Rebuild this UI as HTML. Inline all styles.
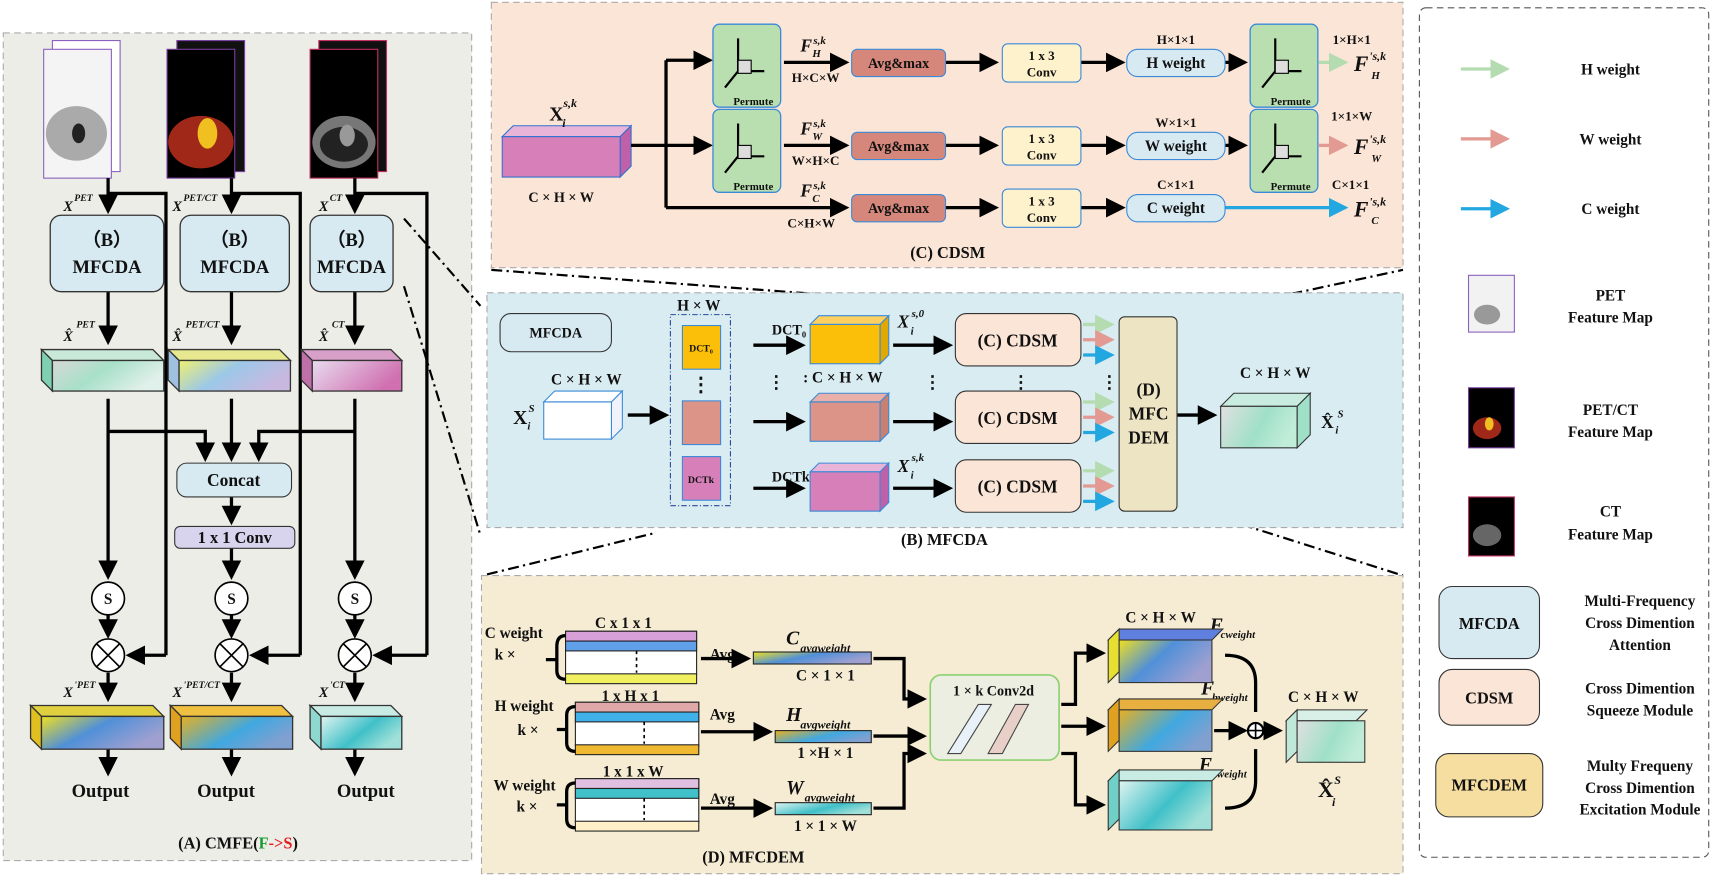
<!DOCTYPE html>
<html><head><meta charset="utf-8"><style>html,body{margin:0;padding:0;background:#fff}svg{display:block}text{font-family:"Liberation Serif",serif;font-weight:bold;fill:#111}</style></head><body>
<svg width="1712" height="876" viewBox="0 0 1568 802" xmlns="http://www.w3.org/2000/svg">
<defs>
<marker id="ar" markerWidth="6" markerHeight="6" refX="5" refY="3" orient="auto" markerUnits="strokeWidth"><path d="M0,0 L6,3 L0,6 z" fill="#000"/></marker>
<marker id="arG" markerWidth="6" markerHeight="6" refX="5" refY="3" orient="auto"><path d="M0,0 L6,3 L0,6 z" fill="#b4dcb0"/></marker>
<marker id="arR" markerWidth="6" markerHeight="6" refX="5" refY="3" orient="auto"><path d="M0,0 L6,3 L0,6 z" fill="#e29a92"/></marker>
<marker id="arB" markerWidth="6" markerHeight="6" refX="5" refY="3" orient="auto"><path d="M0,0 L6,3 L0,6 z" fill="#22a7e0"/></marker>
<linearGradient id="gPet" x1="0" y1="0" x2="1" y2="0.4"><stop offset="0" stop-color="#d8d8d8"/><stop offset=".5" stop-color="#a8e0c8"/><stop offset="1" stop-color="#e0f0ea"/></linearGradient>
<linearGradient id="gPc" x1="0" y1="0" x2="1" y2="0.4"><stop offset="0" stop-color="#f0f070"/><stop offset=".5" stop-color="#9cc8e8"/><stop offset="1" stop-color="#c8b8e0"/></linearGradient>
<linearGradient id="gCt" x1="0" y1="0" x2="1" y2="0.4"><stop offset="0" stop-color="#e8dcef"/><stop offset="1" stop-color="#d070b0"/></linearGradient>
<linearGradient id="gOut1" x1="0" y1="0" x2="1" y2="0.5"><stop offset="0" stop-color="#f0e020"/><stop offset=".5" stop-color="#5090d8"/><stop offset="1" stop-color="#a0a0d0"/></linearGradient>
<linearGradient id="gOut2" x1="0" y1="0" x2="1" y2="0.5"><stop offset="0" stop-color="#e8b020"/><stop offset=".6" stop-color="#40a8e0"/><stop offset="1" stop-color="#80a0d0"/></linearGradient>
<linearGradient id="gTeal" x1="0" y1="0" x2="1" y2="0.5"><stop offset="0" stop-color="#e0f4f0"/><stop offset=".6" stop-color="#40c0c8"/><stop offset="1" stop-color="#a0e0d8"/></linearGradient>
<linearGradient id="gOutS" x1="0" y1="0" x2="1" y2="0.3"><stop offset="0" stop-color="#e0e0e0"/><stop offset=".6" stop-color="#a0e0c8"/><stop offset="1" stop-color="#c0ecd8"/></linearGradient>
</defs>

<!-- Panel A -->
<rect x="3" y="30" width="429" height="758" fill="#ecede6" stroke="#aaa" stroke-dasharray="6,4"/>
<g>
<rect x="48" y="37" width="62" height="120" fill="#fff" stroke="#8a5fbf"/><rect x="40" y="45" width="62" height="118" fill="#f4f4f4" stroke="#8a5fbf"/>
<ellipse cx="70" cy="122" rx="28" ry="25" fill="#aaa"/><ellipse cx="72" cy="122" rx="6" ry="9" fill="#222"/>
<rect x="162" y="37" width="62" height="120" fill="#111" stroke="#7a3fa0"/><rect x="153" y="45" width="62" height="118" fill="#000" stroke="#7a3fa0"/>
<ellipse cx="184" cy="130" rx="30" ry="24" fill="#a02818"/><ellipse cx="190" cy="122" rx="9" ry="14" fill="#f0c020"/>
<rect x="292" y="37" width="62" height="120" fill="#111" stroke="#c03060"/><rect x="284" y="45" width="62" height="118" fill="#000" stroke="#c03060"/>
<ellipse cx="315" cy="130" rx="29" ry="24" fill="#777"/><ellipse cx="315" cy="132" rx="22" ry="16" fill="#222"/><ellipse cx="318" cy="124" rx="7" ry="10" fill="#999"/>
</g>
<g stroke="#000" stroke-width="3" fill="none">
<path d="M99 163 V193" marker-end="url(#ar)"/><path d="M212 163 V193" marker-end="url(#ar)"/><path d="M325 163 V193" marker-end="url(#ar)"/>
<path d="M99 177 H152 V600"/><path d="M212 177 H275 V600"/><path d="M325 177 H391 V600"/>
<path d="M99 267 V313" marker-end="url(#ar)"/><path d="M212 267 V313" marker-end="url(#ar)"/><path d="M325 267 V313" marker-end="url(#ar)"/>
<path d="M99 365 V528" marker-end="url(#ar)"/><path d="M212 365 V420" marker-end="url(#ar)"/><path d="M325 365 V528" marker-end="url(#ar)"/>
<path d="M99 395 H188 V420" marker-end="url(#ar)"/><path d="M325 395 H237 V420" marker-end="url(#ar)"/>
<path d="M212 455 V478" marker-end="url(#ar)"/><path d="M212 502 V528" marker-end="url(#ar)"/>
<path d="M99 563 V582" marker-end="url(#ar)"/><path d="M212 563 V582" marker-end="url(#ar)"/><path d="M325 563 V582" marker-end="url(#ar)"/>
<path d="M152 600 H118" marker-end="url(#ar)"/><path d="M275 600 H231" marker-end="url(#ar)"/><path d="M391 600 H344" marker-end="url(#ar)"/>
<path d="M99 616 V640" marker-end="url(#ar)"/><path d="M212 616 V640" marker-end="url(#ar)"/><path d="M325 616 V640" marker-end="url(#ar)"/>
<path d="M99 685 V708" marker-end="url(#ar)"/><path d="M212 685 V708" marker-end="url(#ar)"/><path d="M325 685 V708" marker-end="url(#ar)"/>
</g>
<g fill="#d7eaf2" stroke="#333" stroke-width="1.2">
<rect x="46" y="197" width="104" height="70" rx="10"/><rect x="165" y="197" width="100" height="70" rx="10"/><rect x="284" y="197" width="76" height="70" rx="10"/>
</g>
<g font-size="17" text-anchor="middle">
<text x="98" y="225">（B）</text><text x="98" y="250">MFCDA</text>
<text x="215" y="225">（B）</text><text x="215" y="250">MFCDA</text>
<text x="322" y="225">（B）</text><text x="322" y="250">MFCDA</text>
</g>
<g font-size="13" font-style="italic" font-weight="normal">
<text x="58" y="193" font-weight="normal">X</text><text x="68" y="184" font-size="9">PET</text>
<text x="158" y="193" font-weight="normal">X</text><text x="168" y="184" font-size="9">PET/CT</text>
<text x="292" y="193" font-weight="normal">X</text><text x="302" y="184" font-size="9">CT</text>
<text x="58" y="312" font-weight="normal">X̂</text><text x="70" y="300" font-size="9">PET</text>
<text x="158" y="312" font-weight="normal">X̂</text><text x="170" y="300" font-size="9">PET/CT</text>
<text x="292" y="312" font-weight="normal">X̂</text><text x="304" y="300" font-size="9">CT</text>
<text x="58" y="638" font-weight="normal">X</text><text x="68" y="630" font-size="9">'PET</text>
<text x="158" y="638" font-weight="normal">X</text><text x="168" y="630" font-size="9">'PET/CT</text>
<text x="292" y="638" font-weight="normal">X</text><text x="302" y="630" font-size="9">'CT</text>
</g>
<g stroke="#333" stroke-width="1.2">
<polygon points="38,320 48,330 150,330 140,320" fill="#c8e8d8"/><polygon points="38,320 48,330 48,358 38,348" fill="#7fd0b0"/><rect x="48" y="330" width="102" height="28" fill="url(#gPet)"/>
<polygon points="154,320 164,330 266,330 256,320" fill="#e8e890"/><polygon points="154,320 164,330 164,358 154,348" fill="#a0c0e0"/><rect x="164" y="330" width="102" height="28" fill="url(#gPc)"/>
<polygon points="276,320 286,330 368,330 358,320" fill="#d8a0c8"/><polygon points="276,320 286,330 286,358 276,348" fill="#c070a8"/><rect x="286" y="330" width="82" height="28" fill="url(#gCt)"/>
<polygon points="28,646 38,656 150,656 140,646" fill="#e0d040"/><polygon points="28,646 38,656 38,686 28,676" fill="#e0c020"/><rect x="38" y="656" width="112" height="30" fill="url(#gOut1)"/>
<polygon points="156,646 166,656 268,656 258,646" fill="#f0c040"/><polygon points="156,646 166,656 166,686 156,676" fill="#e0a020"/><rect x="166" y="656" width="102" height="30" fill="url(#gOut2)"/>
<polygon points="284,646 294,656 368,656 358,646" fill="#c8ece4"/><polygon points="284,646 294,656 294,686 284,676" fill="#8ed8d0"/><rect x="294" y="656" width="74" height="30" fill="url(#gTeal)"/>
</g>
<rect x="162" y="424" width="105" height="31" rx="9" fill="#d7eaf2" stroke="#333"/><text x="214" y="445" font-size="16" text-anchor="middle">Concat</text>
<rect x="160" y="482" width="110" height="20" rx="5" fill="#d8d4ee" stroke="#333"/><text x="215" y="497" font-size="15" text-anchor="middle">1 x 1 Conv</text>
<g fill="#fff" stroke="#000" stroke-width="1.5">
<circle cx="99" cy="548" r="15"/><circle cx="212" cy="548" r="15"/><circle cx="325" cy="548" r="15"/>
<circle cx="99" cy="600" r="15"/><circle cx="212" cy="600" r="15"/><circle cx="325" cy="600" r="15"/>
</g>
<g stroke="#000" stroke-width="1.5"><path d="M88 589 L110 611 M110 589 L88 611 M201 589 L223 611 M223 589 L201 611 M314 589 L336 611 M336 589 L314 611"/></g>
<g font-size="14" text-anchor="middle"><text x="99" y="553">S</text><text x="212" y="553">S</text><text x="325" y="553">S</text></g>
<g font-size="17" text-anchor="middle"><text x="92" y="730">Output</text><text x="207" y="730">Output</text><text x="335" y="730">Output</text></g>
<text x="218" y="777" font-size="15" text-anchor="middle">(A) CMFE(<tspan fill="#1a9a30">F</tspan><tspan fill="#e02020">-&gt;S</tspan>)</text>

<g stroke="#000" stroke-width="2" stroke-dasharray="10,4,2,4" fill="none">
<path d="M370 200 L440 280"/><path d="M370 262 L440 490"/>
<path d="M450 247 L1030 290"/><path d="M1085 290 L1285 247"/>
<path d="M446 526 L600 488"/><path d="M1080 462 L1285 527"/>
</g>

<!-- Panel C -->
<rect x="450" y="2" width="835" height="243" fill="#fbe5d6" stroke="#aaa" stroke-dasharray="6,4"/>
<polygon points="460,125 470,115 578,115 568,125" fill="#e8b4d8" stroke="#3070d0"/><polygon points="568,125 578,115 578,152 568,162" fill="#c060a8" stroke="#3070d0"/><rect x="460" y="125" width="108" height="37" fill="#d67fb8" stroke="#3070d0"/>
<text x="503" y="110" font-size="18">X</text><text x="516" y="98" font-size="11" font-style="italic" font-weight="normal">s,k</text><text x="515" y="116" font-size="11" font-style="italic" font-weight="normal">i</text>
<text x="514" y="185" font-size="13" text-anchor="middle">C × H × W</text>
<g stroke="#000" stroke-width="3" fill="none">
<path d="M578 133 H610"/><path d="M610 55 V190"/>
<path d="M610 55 H650" marker-end="url(#ar)"/><path d="M610 133 H650" marker-end="url(#ar)"/><path d="M610 190 H775" marker-end="url(#ar)"/>
<path d="M718 57 H775" marker-end="url(#ar)"/><path d="M718 133 H775" marker-end="url(#ar)"/>
<path d="M866 57 H912" marker-end="url(#ar)"/><path d="M866 133 H912" marker-end="url(#ar)"/><path d="M866 190 H912" marker-end="url(#ar)"/>
<path d="M990 57 H1028" marker-end="url(#ar)"/><path d="M990 133 H1028" marker-end="url(#ar)"/><path d="M990 190 H1028" marker-end="url(#ar)"/>
<path d="M1122 57 H1140" marker-end="url(#ar)"/><path d="M1122 133 H1140" marker-end="url(#ar)"/>
</g>
<path d="M1208 57 H1232" stroke="#b4dcb0" stroke-width="3" marker-end="url(#arG)"/>
<path d="M1208 133 H1232" stroke="#e29a92" stroke-width="3" marker-end="url(#arR)"/>
<path d="M1122 190 H1232" stroke="#22a7e0" stroke-width="3" marker-end="url(#arB)"/>
<g fill="#b9dfb0" stroke="#3a8ad8" stroke-width="1.2">
<rect x="653" y="22" width="62" height="76" rx="6"/><rect x="653" y="100" width="62" height="76" rx="6"/>
<rect x="1145" y="22" width="62" height="76" rx="6"/><rect x="1145" y="100" width="62" height="76" rx="6"/>
</g>
<g stroke="#000" stroke-width="2" fill="none">
<path d="M676 65 V35 M676 65 L664 80 M676 65 H700"/><path d="M676 143 V113 M676 143 L664 158 M676 143 H700"/>
<path d="M1168 65 V35 M1168 65 L1156 80 M1168 65 H1192"/><path d="M1168 143 V113 M1168 143 L1156 158 M1168 143 H1192"/>
</g>
<g fill="#ddd" stroke="#000"><rect x="676" y="55" width="12" height="12"/><rect x="676" y="133" width="12" height="12"/><rect x="1168" y="55" width="12" height="12"/><rect x="1168" y="133" width="12" height="12"/></g>
<g font-size="10" text-anchor="middle"><text x="690" y="96">Permute</text><text x="690" y="174">Permute</text><text x="1182" y="96">Permute</text><text x="1182" y="174">Permute</text></g>
<g fill="#d4877a" stroke="#3a8ad8"><rect x="780" y="45" width="86" height="25" rx="5"/><rect x="780" y="121" width="86" height="25" rx="5"/><rect x="780" y="178" width="86" height="25" rx="5"/></g>
<g font-size="13" text-anchor="middle"><text x="823" y="62">Avg&amp;max</text><text x="823" y="138">Avg&amp;max</text><text x="823" y="195">Avg&amp;max</text></g>
<g fill="#fef2cc" stroke="#3a8ad8"><rect x="918" y="40" width="72" height="35" rx="5"/><rect x="918" y="116" width="72" height="35" rx="5"/><rect x="918" y="173" width="72" height="35" rx="5"/></g>
<g font-size="12" text-anchor="middle"><text x="954" y="55">1 x 3</text><text x="954" y="70">Conv</text><text x="954" y="131">1 x 3</text><text x="954" y="146">Conv</text><text x="954" y="188">1 x 3</text><text x="954" y="203">Conv</text></g>
<g fill="#d7eaf2" stroke="#3a8ad8"><rect x="1032" y="45" width="90" height="25" rx="10"/><rect x="1032" y="121" width="90" height="25" rx="10"/><rect x="1032" y="178" width="90" height="25" rx="10"/></g>
<g font-size="14" text-anchor="middle"><text x="1077" y="62">H weight</text><text x="1077" y="138">W weight</text><text x="1077" y="195">C weight</text>
<text x="1077" y="40" font-size="12">H×1×1</text><text x="1077" y="116" font-size="12">W×1×1</text><text x="1077" y="173" font-size="12">C×1×1</text>
<text x="1238" y="40" font-size="12">1×H×1</text><text x="1238" y="110" font-size="12">1×1×W</text><text x="1237" y="173" font-size="12">C×1×1</text>
<text x="747" y="75" font-size="12">H×C×W</text><text x="747" y="151" font-size="12">W×H×C</text><text x="743" y="208" font-size="12">C×H×W</text>
</g>
<g font-size="16" font-style="italic" font-weight="normal">
<text x="733" y="47">F</text><text x="745" y="40" font-size="10">s,k</text><text x="744" y="52" font-size="10">H</text>
<text x="733" y="123">F</text><text x="745" y="116" font-size="10">s,k</text><text x="744" y="128" font-size="10">W</text>
<text x="733" y="180">F</text><text x="745" y="173" font-size="10">s,k</text><text x="744" y="185" font-size="10">C</text>
<text x="1240" y="65" font-size="20">F</text><text x="1254" y="55" font-size="11">'s,k</text><text x="1256" y="72" font-size="10">H</text>
<text x="1240" y="141" font-size="20">F</text><text x="1254" y="131" font-size="11">'s,k</text><text x="1256" y="148" font-size="10">W</text>
<text x="1240" y="198" font-size="20">F</text><text x="1254" y="188" font-size="11">'s,k</text><text x="1256" y="205" font-size="10">C</text>
</g>
<text x="868" y="236" font-size="15" text-anchor="middle">(C) CDSM</text>

<!-- Panel B -->
<rect x="446" y="268" width="839" height="215" fill="#d9ecf2" stroke="#aaa" stroke-dasharray="6,4"/>
<rect x="458" y="287" width="102" height="35" rx="10" fill="#d7eaf2" stroke="#333"/><text x="509" y="309" font-size="13" text-anchor="middle">MFCDA</text>
<text x="537" y="352" font-size="14" text-anchor="middle">C × H × W</text>
<polygon points="498,368 508,358 570,358 560,368" fill="#fff" stroke="#3a8ad8"/><polygon points="560,368 570,358 570,392 560,402" fill="#f0f4fa" stroke="#3a8ad8"/><rect x="498" y="368" width="62" height="34" fill="#fff" stroke="#3a8ad8"/>
<text x="470" y="388" font-size="18">X</text><text x="484" y="377" font-size="10" font-style="italic" font-weight="normal">S</text><text x="483" y="393" font-size="10" font-style="italic" font-weight="normal">i</text>
<rect x="614" y="288" width="55" height="175" fill="none" stroke="#2a4a9a" stroke-dasharray="5,2,1,2"/>
<text x="640" y="284" font-size="14" text-anchor="middle">H × W</text>
<rect x="625" y="298" width="35" height="40" fill="#fbbf0a" stroke="#3a8ad8"/><text x="642" y="322" font-size="9" text-anchor="middle">DCT₀</text>
<text x="642" y="358" font-size="18" text-anchor="middle">⋮</text>
<rect x="625" y="367" width="35" height="40" fill="#dc9488" stroke="#3a8ad8"/>
<rect x="625" y="418" width="35" height="40" fill="#d67fb8" stroke="#3a8ad8"/><text x="642" y="442" font-size="9" text-anchor="middle">DCTk</text>
<g stroke="#000" stroke-width="3" fill="none">
<path d="M575 380 H610" marker-end="url(#ar)"/>
<path d="M690 316 H735" marker-end="url(#ar)"/><path d="M690 386 H735" marker-end="url(#ar)"/><path d="M690 447 H735" marker-end="url(#ar)"/>
<path d="M818 316 H870" marker-end="url(#ar)"/><path d="M818 386 H870" marker-end="url(#ar)"/><path d="M818 447 H870" marker-end="url(#ar)"/>
<path d="M1078 380 H1112" marker-end="url(#ar)"/>
</g>
<text x="707" y="306" font-size="13">DCT₀</text><text x="707" y="441" font-size="13">DCTk</text>
<text x="772" y="350" font-size="14" text-anchor="middle">: C × H × W</text>
<text x="703" y="355" font-size="16">⋮</text><text x="846" y="355" font-size="16">⋮</text><text x="927" y="355" font-size="16">⋮</text><text x="1008" y="355" font-size="16">⋮</text>
<g stroke="#3a8ad8">
<polygon points="742,297 750,289 814,289 806,297" fill="#fbd060"/><polygon points="806,297 814,289 814,325 806,333" fill="#e0a800"/><rect x="742" y="297" width="64" height="36" fill="#fbbf0a"/>
<polygon points="742,368 750,360 814,360 806,368" fill="#e8b0a8"/><polygon points="806,368 814,360 814,396 806,404" fill="#c88070"/><rect x="742" y="368" width="64" height="36" fill="#dc9488"/>
<polygon points="742,432 750,424 814,424 806,432" fill="#e8b4d8"/><polygon points="806,432 814,424 814,460 806,468" fill="#c060a8"/><rect x="742" y="432" width="64" height="36" fill="#d67fb8"/>
</g>
<g font-size="16" font-style="italic" font-weight="normal">
<text x="822" y="300">X</text><text x="835" y="290" font-size="10">s,0</text><text x="834" y="306" font-size="10">i</text>
<text x="822" y="432">X</text><text x="835" y="422" font-size="10">s,k</text><text x="834" y="438" font-size="10">i</text>
</g>
<g fill="#fbe5d6" stroke="#333"><rect x="875" y="287" width="115" height="48" rx="10"/><rect x="875" y="358" width="115" height="48" rx="10"/><rect x="875" y="421" width="115" height="48" rx="10"/></g>
<g font-size="16" text-anchor="middle"><text x="932" y="317">(C) CDSM</text><text x="932" y="388">(C) CDSM</text><text x="932" y="451">(C) CDSM</text></g>
<g stroke-width="3" fill="none">
<path d="M992 297 H1018" stroke="#b4dcb0" marker-end="url(#arG)"/><path d="M992 311 H1018" stroke="#e29a92" marker-end="url(#arR)"/><path d="M992 325 H1018" stroke="#22a7e0" marker-end="url(#arB)"/>
<path d="M992 368 H1018" stroke="#b4dcb0" marker-end="url(#arG)"/><path d="M992 382 H1018" stroke="#e29a92" marker-end="url(#arR)"/><path d="M992 396 H1018" stroke="#22a7e0" marker-end="url(#arB)"/>
<path d="M992 431 H1018" stroke="#b4dcb0" marker-end="url(#arG)"/><path d="M992 445 H1018" stroke="#e29a92" marker-end="url(#arR)"/><path d="M992 459 H1018" stroke="#22a7e0" marker-end="url(#arB)"/>
</g>
<rect x="1025" y="290" width="53" height="178" rx="5" fill="#ede4c3" stroke="#333"/>
<g font-size="16" text-anchor="middle"><text x="1052" y="362">(D)</text><text x="1052" y="384">MFC</text><text x="1052" y="406">DEM</text></g>
<text x="1168" y="346" font-size="14" text-anchor="middle">C × H × W</text>
<g stroke="#333"><polygon points="1118,372 1130,360 1200,360 1188,372" fill="#c8ece0"/><polygon points="1188,372 1200,360 1200,398 1188,410" fill="#a0e0c8"/><rect x="1118" y="372" width="70" height="38" fill="url(#gOutS)"/></g>
<text x="1210" y="392" font-size="16">X̂</text><text x="1225" y="382" font-size="10" font-style="italic" font-weight="normal">S</text><text x="1223" y="397" font-size="10" font-style="italic" font-weight="normal">i</text>
<text x="865" y="499" font-size="15" text-anchor="middle">(B) MFCDA</text>

<!-- Panel D -->
<rect x="441" y="527" width="844" height="273" fill="#f5ecd3" stroke="#aaa" stroke-dasharray="6,4"/>
<rect x="852" y="618" width="118" height="78" rx="10" fill="#eceee2" stroke="#8cd070" stroke-width="1.5"/>
<g stroke="#444"><polygon points="868,690 880,690 908,645 896,645" fill="#e8f0f8"/><polygon points="905,690 918,690 942,645 930,645" fill="#e8d0c8"/></g>
<g font-size="14"><text x="444" y="584">C weight</text><text x="453" y="651">H weight</text><text x="452" y="724">W weight</text>
<text x="453" y="604">k ×</text><text x="474" y="673">k ×</text><text x="473" y="743">k ×</text>
<text x="545" y="575">C x 1 x 1</text><text x="551" y="642">1 x H x 1</text><text x="552" y="711">1 x 1 x W</text>
<text x="650" y="604">Avg</text><text x="650" y="659">Avg</text><text x="650" y="736">Avg</text>
<text x="756" y="623" text-anchor="middle">C × 1 × 1</text><text x="756" y="694" text-anchor="middle">1 ×H × 1</text><text x="756" y="761" text-anchor="middle">1 × 1 × W</text>
<text x="1028" y="591">Expand</text><text x="1028" y="754">Expand</text>
<text x="1063" y="570" text-anchor="middle">C × H × W</text><text x="1212" y="643" text-anchor="middle">C × H × W</text>
<text x="910" y="637" font-size="13" text-anchor="middle">1 × k Conv2d</text>
</g>
<g font-style="italic" font-weight="normal" font-size="18">
<text x="720" y="590">C</text><text x="733" y="597" font-size="11">avgweight</text>
<text x="720" y="660">H</text><text x="733" y="667" font-size="11">avgweight</text>
<text x="720" y="727">W</text><text x="737" y="734" font-size="11">avgweight</text>
<text x="1108" y="578">F</text><text x="1118" y="584" font-size="10">cweight</text>
<text x="1100" y="636">F</text><text x="1110" y="642" font-size="10">hweight</text>
<text x="1098" y="706">F</text><text x="1108" y="712" font-size="10">wweight</text>
</g>
<g stroke="#222">
<rect x="518" y="578" width="120" height="40" fill="#fff"/><rect x="518" y="578" width="120" height="9" fill="#d8a0d8"/><rect x="518" y="587" width="120" height="9" fill="#60a0e8"/><rect x="518" y="617" width="120" height="9" fill="#f0f060"/>
<rect x="527" y="643" width="113" height="40" fill="#fff"/><rect x="527" y="643" width="113" height="9" fill="#e0a8a8"/><rect x="527" y="652" width="113" height="9" fill="#40b0e8"/><rect x="527" y="682" width="113" height="9" fill="#f0b830"/>
<rect x="527" y="713" width="113" height="40" fill="#fff"/><rect x="527" y="713" width="113" height="9" fill="#e0c0e0"/><rect x="527" y="722" width="113" height="9" fill="#40c0c8"/><rect x="527" y="752" width="113" height="9" fill="#fff0c8"/>
<rect x="690" y="597" width="108" height="11" fill="url(#gOut1)"/><rect x="710" y="669" width="88" height="11" fill="url(#gOut2)"/><rect x="710" y="735" width="88" height="11" fill="url(#gTeal)"/>
</g>
<g stroke="#000" stroke-width="1.5" fill="none" stroke-dasharray="3,3"><path d="M583 596 V616 M590 661 V681 M590 731 V751"/></g>
<g stroke="#000" stroke-width="3" fill="none">
<path d="M518 582 Q510 582 510 592 V614 Q510 622 518 622 M500 604 H510"/>
<path d="M527 647 Q519 647 519 655 V680 Q519 688 527 688 M510 668 H519"/>
<path d="M527 717 Q519 717 519 725 V750 Q519 758 527 758 M510 737 H519"/>
<path d="M642 603 H685" marker-end="url(#ar)"/><path d="M642 670 H705" marker-end="url(#ar)"/><path d="M642 740 H705" marker-end="url(#ar)"/>
<path d="M800 603 H828 V640 H846" marker-end="url(#ar)"/><path d="M800 674 H846" marker-end="url(#ar)"/><path d="M800 740 H828 V690 H846" marker-end="url(#ar)"/>
<path d="M972 645 H985 V598 H1010" marker-end="url(#ar)"/><path d="M972 665 H1010" marker-end="url(#ar)"/><path d="M972 690 H985 V737 H1010" marker-end="url(#ar)"/>
<path d="M1122 600 Q1150 600 1150 625 V652"/><path d="M1122 740 Q1150 740 1150 715 V686"/>
<path d="M1112 669 H1140" marker-end="url(#ar)"/><path d="M1160 669 H1172" marker-end="url(#ar)"/>
</g>
<circle cx="1150" cy="669" r="7" fill="#fff" stroke="#000" stroke-width="2"/><path d="M1143 669 H1157 M1150 662 V676" stroke="#000" stroke-width="1.5"/>
<g stroke="#333">
<polygon points="1015,586 1025,576 1120,576 1110,586" fill="#6080e0"/><polygon points="1015,586 1025,576 1025,615 1015,625" fill="#e8e030"/><rect x="1025" y="586" width="85" height="39" fill="url(#gOut1)"/>
<polygon points="1015,650 1025,640 1120,640 1110,650" fill="#e8b040"/><polygon points="1015,650 1025,640 1025,678 1015,688" fill="#e0a020"/><rect x="1025" y="650" width="85" height="38" fill="url(#gOut2)"/>
<polygon points="1015,715 1025,705 1120,705 1110,715" fill="#c8ece4"/><polygon points="1015,715 1025,705 1025,750 1015,760" fill="#70d0c8"/><rect x="1025" y="715" width="85" height="45" fill="url(#gTeal)"/>
<polygon points="1178,660 1188,650 1252,650 1242,660" fill="#d8f0e8"/><polygon points="1178,660 1188,650 1188,688 1178,698" fill="#c0e8d8"/><rect x="1188" y="660" width="62" height="38" fill="url(#gOutS)"/>
</g>
<text x="1207" y="730" font-size="20">X̂</text><text x="1222" y="718" font-size="11" font-style="italic" font-weight="normal">S</text><text x="1220" y="738" font-size="11" font-style="italic" font-weight="normal">i</text>
<text x="690" y="790" font-size="15" text-anchor="middle">(D) MFCDEM</text>

<!-- Legend -->
<rect x="1300" y="7" width="265" height="778" rx="6" fill="#fff" stroke="#555" stroke-dasharray="6,4"/>
<path d="M1338 63 H1380" stroke="#b4dcb0" stroke-width="3" marker-end="url(#arG)"/>
<path d="M1338 127 H1380" stroke="#e29a92" stroke-width="3" marker-end="url(#arR)"/>
<path d="M1338 191 H1380" stroke="#22a7e0" stroke-width="3" marker-end="url(#arB)"/>
<g font-size="14" text-anchor="middle"><text x="1475" y="68">H weight</text><text x="1475" y="132">W weight</text><text x="1475" y="196">C weight</text>
<text x="1475" y="275">PET</text><text x="1475" y="295">Feature Map</text>
<text x="1475" y="380">PET/CT</text><text x="1475" y="400">Feature Map</text>
<text x="1475" y="473">CT</text><text x="1475" y="494">Feature Map</text>
<text x="1502" y="555">Multi-Frequency</text><text x="1502" y="575">Cross Dimention</text><text x="1502" y="595">Attention</text>
<text x="1502" y="635">Cross Dimention</text><text x="1502" y="655">Squeeze Module</text>
<text x="1502" y="706">Multy Frequeny</text><text x="1502" y="726">Cross Dimention</text><text x="1502" y="746">Excitation Module</text>
</g>
<rect x="1345" y="252" width="42" height="52" fill="#f2f2f2" stroke="#8a5fbf"/><ellipse cx="1362" cy="288" rx="12" ry="9" fill="#999"/>
<rect x="1345" y="355" width="42" height="55" fill="#000" stroke="#7a3fa0"/><ellipse cx="1362" cy="392" rx="13" ry="10" fill="#a02818"/><ellipse cx="1364" cy="388" rx="4" ry="6" fill="#f0c020"/>
<rect x="1345" y="455" width="42" height="54" fill="#000" stroke="#c03060"/><ellipse cx="1362" cy="490" rx="13" ry="10" fill="#666"/>
<rect x="1318" y="537" width="92" height="66" rx="12" fill="#d7eaf2" stroke="#333"/><text x="1364" y="576" font-size="15" text-anchor="middle">MFCDA</text>
<rect x="1318" y="613" width="92" height="51" rx="12" fill="#fbe5d6" stroke="#333"/><text x="1364" y="644" font-size="15" text-anchor="middle">CDSM</text>
<rect x="1315" y="690" width="98" height="58" rx="12" fill="#f5dea0" stroke="#333"/><text x="1364" y="724" font-size="15" text-anchor="middle">MFCDEM</text>
</svg>
</body></html>
